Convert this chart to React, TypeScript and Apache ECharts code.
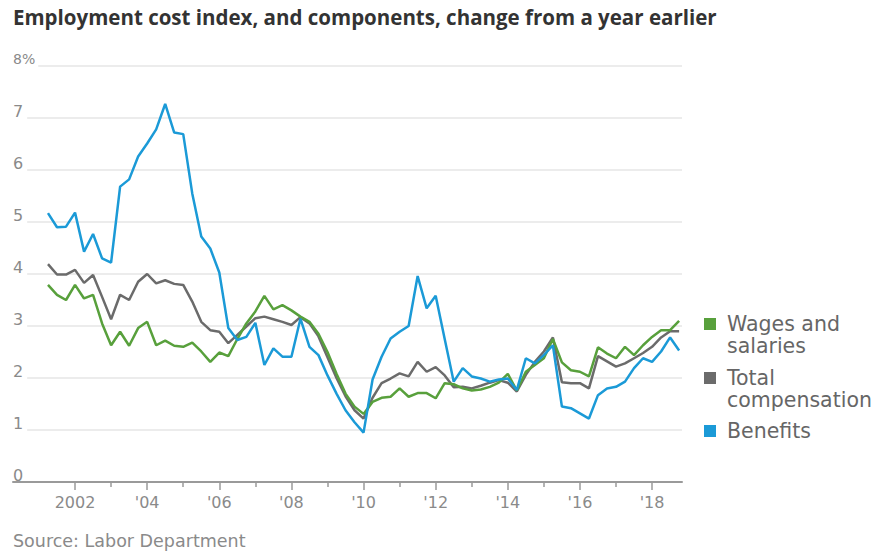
import React, { useEffect, useRef } from "react";
import * as echarts from "echarts";

const TITLE = "Employment cost index, and components, change from a year earlier";
const SOURCE = "Source: Labor Department";

// Quarterly observations, 2001 Q1 through 2018 Q3
const firstYear = 2001;
const lastYear = 2018;
const lastQuarter = 3;
const quarterLabels: string[] = [];
for (let y = firstYear; y <= lastYear; y++) {
  for (let q = 1; q <= 4; q++) {
    if (y === lastYear && q > lastQuarter) break;
    quarterLabels.push(`${y} Q${q}`);
  }
}

const wagesAndSalaries = [
  3.79, 3.6, 3.5, 3.79, 3.53, 3.6, 3.05, 2.63, 2.89, 2.62, 2.96, 3.08, 2.63, 2.72, 2.62, 2.6,
  2.68, 2.51, 2.31, 2.49, 2.42, 2.75, 3.05, 3.28, 3.58, 3.32, 3.4, 3.3, 3.18, 3.08, 2.85, 2.5,
  2.08, 1.7, 1.45, 1.31, 1.54, 1.62, 1.64, 1.8, 1.64, 1.71, 1.71, 1.61, 1.9, 1.88, 1.8, 1.76,
  1.78, 1.83, 1.91, 2.08, 1.76, 2.12, 2.25, 2.38, 2.75, 2.3, 2.15, 2.12, 2.03, 2.59, 2.47, 2.38,
  2.6, 2.44, 2.63, 2.79, 2.92, 2.92, 3.1,
];

const totalCompensation = [
  4.19, 3.99, 3.99, 4.08, 3.83, 3.98, 3.56, 3.13, 3.6, 3.5, 3.85, 4.0, 3.82, 3.88, 3.81, 3.79,
  3.47, 3.08, 2.92, 2.89, 2.67, 2.83, 2.99, 3.15, 3.18, 3.13, 3.08, 3.02, 3.17, 3.05, 2.8, 2.4,
  2.0, 1.65, 1.38, 1.22, 1.62, 1.9, 1.99, 2.09, 2.03, 2.31, 2.12, 2.21, 2.05, 1.82, 1.83, 1.8,
  1.85, 1.91, 1.96, 1.91, 1.74, 2.06, 2.31, 2.51, 2.78, 1.92, 1.9, 1.9, 1.8, 2.42, 2.32, 2.22,
  2.28, 2.38, 2.48, 2.6, 2.78, 2.9, 2.9,
];

const benefits = [
  5.17, 4.9, 4.91, 5.18, 4.43, 4.77, 4.3, 4.22, 5.68, 5.82, 6.26, 6.51, 6.78, 7.27, 6.72, 6.69,
  5.55, 4.72, 4.49, 4.03, 2.96, 2.73, 2.79, 3.06, 2.25, 2.57, 2.41, 2.41, 3.14, 2.6, 2.44, 2.05,
  1.7, 1.38, 1.15, 0.95, 1.97, 2.41, 2.76, 2.89, 3.0, 3.96, 3.34, 3.58, 2.75, 1.93, 2.19, 2.03,
  1.99, 1.93, 1.97, 1.99, 1.77, 2.38, 2.28, 2.44, 2.63, 1.45, 1.42, 1.32, 1.22, 1.67, 1.8, 1.83,
  1.93, 2.19, 2.38, 2.31, 2.51, 2.78, 2.53,
];

const yTicks = [0, 1, 2, 3, 4, 5, 6, 7, 8];
const labeledYears = [2002, 2004, 2006, 2008, 2010, 2012, 2014, 2016, 2018];
const minorYears = [2003, 2005, 2007, 2009, 2011, 2013, 2015, 2017];

const seriesNames = ["Wages and salaries", "Total compensation", "Benefits"];
const legendLines = [["Wages and", "salaries"], ["Total", "compensation"], ["Benefits"]];

const GREEN = "#58a03c";
const GRAY = "#6b6b6b";
const BLUE = "#1b9ad7";

// quarter-end positions in fractional years
const xPositions = quarterLabels.map((lab) => {
  const [y, q] = lab.split(" Q");
  return Number(y) + Number(q) * 0.25;
});

const toPairs = (vals: number[]) => vals.map((v, i) => [xPositions[i], v]);

const FONT = "DejaVu Sans";

export default function App() {
  const ref = useRef<HTMLDivElement>(null);
  useEffect(() => {
    if (!ref.current) return;
    const chart = echarts.init(ref.current, undefined, { renderer: "svg" });
    const legendTop = [324, 378, 431];
    const legendColors = [GREEN, GRAY, BLUE];
    const graphics: any[] = [];
    legendLines.forEach((lines, k) => {
      graphics.push({
        type: "rect",
        shape: { x: 704, y: legendTop[k] - 6, width: 12, height: 12 },
        style: { fill: legendColors[k] },
      });
      graphics.push({
        type: "text",
        x: 727,
        y: legendTop[k] - 11,
        style: {
          text: lines.join("\n"),
          font: `20.5px "${FONT}"`,
          fill: "#666",
          lineHeight: 22,
          verticalAlign: "top",
        },
      });
    });
    graphics.push({
      type: "text",
      x: 13,
      y: 541,
      style: {
        text: SOURCE,
        font: `17.5px "${FONT}"`,
        fill: "#8a8a8a",
        verticalAlign: "middle",
      },
    });

    const option: any = {
      animation: false,
      backgroundColor: "#fff",
      title: {
        text: TITLE,
        left: 13,
        top: 6,
        padding: 0,
        textStyle: {
          fontFamily: "Open Sans",
          fontWeight: "bold",
          fontSize: 20.5,
          lineHeight: 22,
          color: "#333",
        },
      },
      grid: { left: 13, right: 196, top: 66, bottom: 72, containLabel: false },
      xAxis: [
        {
          type: "value",
          min: 2000.28,
          max: 2018.83,
          position: "bottom",
          z: 5,
          axisLine: { show: true, lineStyle: { color: "#9a9a9a", width: 2 } },
          axisTick: {
            show: true,
            customValues: minorYears,
            length: 5,
            lineStyle: { color: "#9a9a9a", width: 1.5 },
          },
          axisLabel: { show: false },
          splitLine: { show: false },
        },
        {
          type: "value",
          min: 2000.28,
          max: 2018.83,
          position: "bottom",
          z: 5,
          axisLine: { show: false },
          axisTick: {
            show: true,
            customValues: labeledYears,
            length: 8,
            lineStyle: { color: "#9a9a9a", width: 1.5 },
          },
          axisLabel: {
            show: true,
            customValues: labeledYears,
            margin: 12,
            fontFamily: FONT,
            fontSize: 16,
            color: "#8a8a8a",
            formatter: (v: number) => (v === 2002 ? "2002" : "'" + String(v).slice(2)),
          },
          splitLine: { show: false },
        },
      ],
      yAxis: {
        type: "value",
        min: 0,
        max: 8,
        interval: 1,
        z: 1,
        axisLine: { show: false },
        axisTick: { show: false },
        splitLine: { show: true, lineStyle: { color: "#e6e6e6", width: 1.5 } },
        axisLabel: {
          inside: true,
          margin: 0,
          customValues: yTicks,
          formatter: (v: number) =>
            v === 8 ? "{t|8%}" : v === 0 ? "{z|0}" : "{n|" + v + "}",
          rich: {
            t: {
              fontFamily: FONT,
              fontSize: 14,
              color: "#8a8a8a",
              backgroundColor: "#fff",
              padding: [0, 3, 14, 0],
            },
            n: {
              fontFamily: FONT,
              fontSize: 16,
              color: "#8a8a8a",
              backgroundColor: "#fff",
              padding: [0, 4, 14, 0],
            },
            z: {
              fontFamily: FONT,
              fontSize: 16,
              color: "#8a8a8a",
              padding: [0, 4, 14, 0],
            },
          },
        },
      },
      series: [
        {
          name: seriesNames[1],
          type: "line",
          xAxisIndex: 0,
          data: toPairs(totalCompensation),
          showSymbol: false,
          lineStyle: { color: GRAY, width: 2.5 },
          itemStyle: { color: GRAY },
        },
        {
          name: seriesNames[0],
          type: "line",
          xAxisIndex: 0,
          data: toPairs(wagesAndSalaries),
          showSymbol: false,
          lineStyle: { color: GREEN, width: 2.5 },
          itemStyle: { color: GREEN },
        },
        {
          name: seriesNames[2],
          type: "line",
          xAxisIndex: 0,
          data: toPairs(benefits),
          showSymbol: false,
          lineStyle: { color: BLUE, width: 2.5 },
          itemStyle: { color: BLUE },
        },
      ],
      graphic: graphics,
    };
    chart.setOption(option);
    return () => chart.dispose();
  }, []);
  return <div ref={ref} style={{ width: 878, height: 554, position: "absolute", left: 0, top: 0 }} />;
}
